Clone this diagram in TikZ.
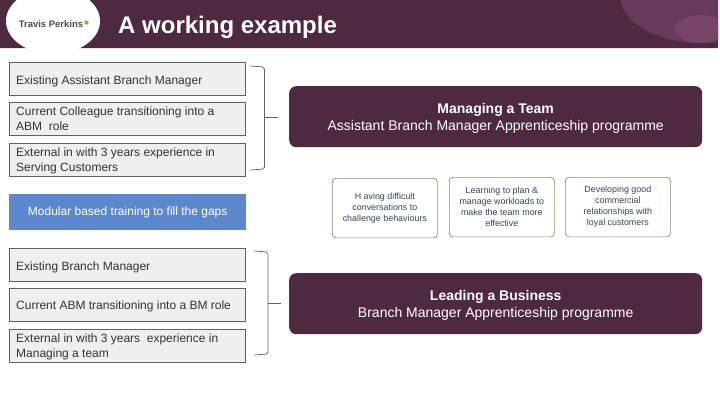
\documentclass[tikz,border=0pt]{standalone}
\usepackage{fontspec}
\setmainfont{Liberation Sans}
\definecolor{plum}{HTML}{4E2A41}
\definecolor{plumb}{HTML}{673A5C}
\definecolor{plumc}{HTML}{774467}
\definecolor{boxgray}{HTML}{EFEFEF}
\definecolor{boxline}{HTML}{5F6368}
\definecolor{olive}{HTML}{8F8A5C}
\definecolor{smalltext}{HTML}{2F4A50}
\definecolor{bluebox}{HTML}{5B87CC}
\definecolor{txt}{HTML}{333333}
\tikzset{
  x=1pt,y=-1pt,
  graybox/.style={draw=boxline,line width=0.7pt,fill=boxgray,minimum width=236pt,anchor=north west,inner sep=0pt,outer sep=0pt,text=txt},
  labeltext/.style={anchor=west,align=left,inner sep=0pt,font=\fontsize{12pt}{15pt}\selectfont,text=txt},
  darkbox/.style={fill=plum,rounded corners=7pt,minimum width=413pt,minimum height=61pt,anchor=north west,inner sep=0pt,text=white,align=center,font=\fontsize{14pt}{17pt}\selectfont},
  smallbox/.style={draw=olive,line width=0.7pt,rounded corners=3.5pt,fill=white,minimum width=105pt,minimum height=59.5pt,anchor=north west,inner sep=0pt,align=center,text=smalltext,font=\fontsize{8.9pt}{11pt}\selectfont},
  bracket/.style={draw=boxline,line width=0.7pt,rounded corners=2pt},
}
\begin{document}
\begin{tikzpicture}
\useasboundingbox (0,0) rectangle (720,405);
% header
\fill[plum] (0,0) rectangle (718,48);
\begin{scope}
\clip (0,0) rectangle (718,46);
\fill[plumb] (700,-5) ellipse (80 and 48);
\fill[plumc] (700,29) ellipse (25 and 14);
\end{scope}
\fill[boxgray!60!plum!30] (0,48) rectangle (718,49);
\begin{scope}
\clip (0,0) rectangle (720,48);
\fill[white] (53,21) ellipse (47 and 33);
\end{scope}
\node[name=logo,anchor=center,inner sep=0pt,font=\fontsize{9.5pt}{10pt}\selectfont\bfseries,text=black!70] at (51,24) {Travis Perkins};
\fill[olive!80!yellow] (86.5,22.5) circle (2.2);
\node[name=title,anchor=west,inner sep=0pt,text=white,font=\fontsize{24pt}{26pt}\selectfont\bfseries] at (118,27.5) {A working example};
% upper gray boxes
\node[graybox,minimum height=33.5pt] (a1) at (9.5,62) {};
\node[labeltext] at (16,81) {Existing Assistant Branch Manager};
\node[graybox,minimum height=33.5pt] (a2) at (9.5,102) {};
\node[labeltext] at (16,119) {Current Colleague transitioning into a\\ABM\ \ role};
\node[graybox,minimum height=33pt] (a3) at (9.5,143) {};
\node[labeltext] at (16,160.5) {External in with 3 years experience in\\Serving Customers};
% blue
\node[fill=bluebox,minimum width=237pt,minimum height=36pt,anchor=north west,inner sep=0pt,text=white,font=\fontsize{12pt}{14pt}\selectfont] (blue) at (9,194) {Modular based training to fill the gaps};
% lower gray boxes
\node[graybox,minimum height=33.5pt] (b1) at (9.5,248) {};
\node[labeltext] at (16,267) {Existing Branch Manager};
\node[graybox,minimum height=33pt] (b2) at (9.5,288) {};
\node[labeltext] at (16,306) {Current ABM transitioning into a BM role};
\node[graybox,minimum height=33pt] (b3) at (9.5,329) {};
\node[labeltext] at (16,346.5) {External in with 3 years\ \ experience in\\Managing a team};
% brackets
\coordinate (u1) at (250,66); \coordinate (u2) at (250,170); \coordinate (ut) at (278,117.5); \coordinate (um) at (264.5,117.5);
\coordinate (l1) at (254,251); \coordinate (l2) at (254,355); \coordinate (lt) at (281,303); \coordinate (lm) at (268,303);
\draw[bracket] (u1) -- (264.5,67) -- (um) -- (264.5,169) -- (u2);
\draw[draw=boxline,line width=0.7pt] (um) -- (ut);
\draw[bracket] (l1) -- (268,252) -- (lm) -- (268,354) -- (l2);
\draw[draw=boxline,line width=0.7pt] (lm) -- (lt);
% dark boxes
\node[darkbox,text height=0pt] (d1) at (289,86) {};
\node[anchor=center,align=center,inner sep=0pt,text=white,font=\fontsize{14pt}{17pt}\selectfont] at ([yshift=-1.5pt]d1.center) {\textbf{Managing a Team}\\Assistant Branch Manager Apprenticeship programme};
\node[darkbox] (d2) at (289,273) {};
\node[anchor=center,align=center,inner sep=0pt,text=white,font=\fontsize{14pt}{17pt}\selectfont] at ([yshift=-1.5pt]d2.center) {\textbf{Leading a Business}\\Branch Manager Apprenticeship programme};
% small boxes
\node[smallbox] (s1) at (332,178) {H aving difficult\\conversations to\\challenge behaviours};
\node[smallbox] (s2) at (449,177) {Learning to plan \&\\manage workloads to\\make the team more\\effective};
\node[smallbox] (s3) at (565,177) {Developing good\\commercial\\relationships with\\loyal customers};
\end{tikzpicture}
\end{document}
